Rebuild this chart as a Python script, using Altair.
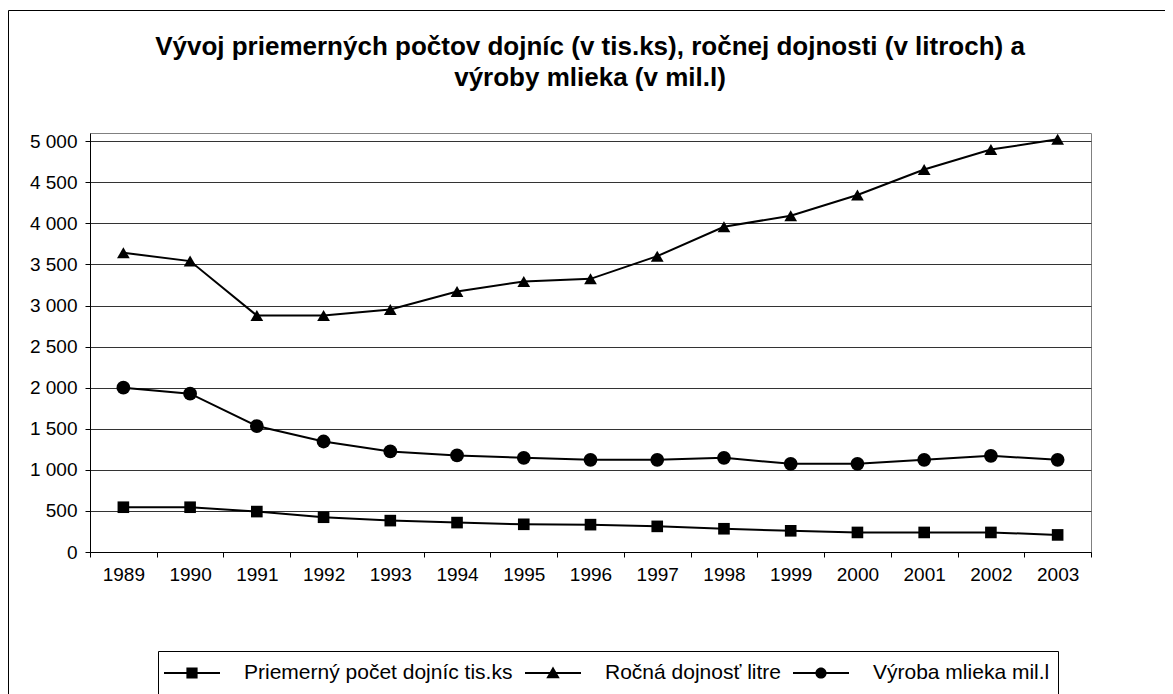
import altair as alt
import pandas as pd

years = ["1989", "1990", "1991", "1992", "1993", "1994", "1995", "1996",
         "1997", "1998", "1999", "2000", "2001", "2002", "2003"]
cows = [545, 545, 492, 423, 382, 358, 337, 333, 312, 283, 258, 238, 238, 238, 208]
milk_yield = [3642, 3541, 2878, 2878, 2951, 3171, 3293, 3325, 3601, 3959, 4093, 4345, 4655, 4898, 5024]
milk_prod = [2000, 1927, 1533, 1345, 1224, 1175, 1146, 1122, 1122, 1146, 1073, 1073, 1122, 1171, 1122]
series_names = ["Priemerný počet dojníc tis.ks", "Ročná dojnosť litre", "Výroba mlieka mil.l"]
y_ticks = [0, 500, 1000, 1500, 2000, 2500, 3000, 3500, 4000, 4500, 5000]
title_line1 = "Vývoj priemerných počtov dojníc (v tis.ks), ročnej dojnosti (v litroch) a"
title_line2 = "výroby mlieka (v mil.l)"

rows = []
for name, vals in zip(series_names, [cows, milk_yield, milk_prod]):
    for yr, v in zip(years, vals):
        rows.append({"year": yr, "value": v, "series": name})
df = pd.DataFrame(rows)

FONT = "Liberation Sans"

x_enc = alt.X("year:O", bandPosition=0.5, title=None,
              scale=alt.Scale(type="band", paddingInner=0, paddingOuter=0, domain=years),
              axis=alt.Axis(labelAngle=0, tickBand="extent", grid=False, tickSize=5,
                            tickColor="black", domainColor="black", labelPadding=8,
                            labelFontSize=19, labelFont=FONT, labelColor="black"))
y_enc = alt.Y("value:Q", title=None,
              scale=alt.Scale(domain=[0, 5100], nice=False),
              axis=alt.Axis(values=y_ticks, tickSize=5, tickColor="black", domainColor="black",
                            gridColor="#333333", gridWidth=1, labelPadding=8,
                            labelFontSize=19, labelFont=FONT, labelColor="black",
                            labelExpr="replace(format(datum.value, ','), ',', ' ')"))

base = alt.Chart(df)

lines = base.mark_line(color="black", strokeWidth=2).encode(
    x=x_enc, y=y_enc, detail="series:N")

points = base.mark_point(filled=True, color="black", opacity=1).encode(
    x=x_enc, y=y_enc,
    shape=alt.Shape("series:N", scale=alt.Scale(domain=series_names,
                                                range=["square", "triangle-up", "circle"]),
                    legend=None),
    size=alt.Size("series:N", scale=alt.Scale(domain=series_names, range=[135, 190, 140]),
                  legend=None))

# legend symbols: thin filled bar (the line) plus the marker, in Vega's -1..1 symbol box
leg_paths = [
    "M-1,-0.036H1V0.036H-1Z M-0.2,-0.2H0.2V0.2H-0.2Z",
    "M-1,-0.036H1V0.036H-1Z M0,-0.23L0.24,0.19H-0.24Z",
    "M-1,-0.036H1V0.036H-1Z M-0.2,0A0.2,0.2 0 1,1 0.2,0A0.2,0.2 0 1,1 -0.2,0Z",
]

legend_layer = base.mark_point(filled=True, color="black", size=3136).encode(
    x=x_enc, y=y_enc,
    shape=alt.Shape("series:N", scale=alt.Scale(domain=series_names, range=leg_paths),
                    legend=alt.Legend(title=None, orient="none", legendX=74, legendY=512,
                                      direction="horizontal", padding=0,
                                      labelFontSize=21, labelFont=FONT, labelColor="black",
                                      labelLimit=0, labelOffset=24, columnPadding=12,
                                      symbolSize=3136, symbolStrokeWidth=0, symbolOpacity=1,
                                      symbolFillColor="black"))
).transform_filter("false")

frame_df = pd.DataFrame({"k": [0]})
frame = alt.Chart(frame_df)
outer_frame = frame.mark_rect(fill="white", fillOpacity=0, stroke="black",
                              strokeWidth=1).encode(
    x=alt.value(-81.5), x2=alt.value(1075.5), y=alt.value(-122.5), y2=alt.value(600))
legend_box = frame.mark_rect(fill="white", fillOpacity=0, stroke="black",
                             strokeWidth=1).encode(
    x=alt.value(68.5), x2=alt.value(968.5), y=alt.value(518.5), y2=alt.value(600))
title1 = frame.mark_text(font=FONT, fontSize=26, fontWeight="bold", color="black",
                         align="center", baseline="middle").encode(
    x=alt.value(500), y=alt.value(-86), text=alt.value(title_line1))
title2 = frame.mark_text(font=FONT, fontSize=26, fontWeight="bold", color="black",
                         align="center", baseline="middle").encode(
    x=alt.value(500), y=alt.value(-55), text=alt.value(title_line2))

chart = alt.layer(outer_frame, legend_box, title1, title2, lines, points, legend_layer).resolve_scale(
    shape="independent", size="independent"
).properties(
    width=1001, height=419,
    autosize=alt.AutoSizeParams(type="none"),
    padding={"left": 82, "top": 125, "right": 74, "bottom": 148},
    background="white",
).configure_view(stroke="#808080", strokeWidth=1)

chart.save("out.html", embed_options={"renderer": "svg", "actions": False})
